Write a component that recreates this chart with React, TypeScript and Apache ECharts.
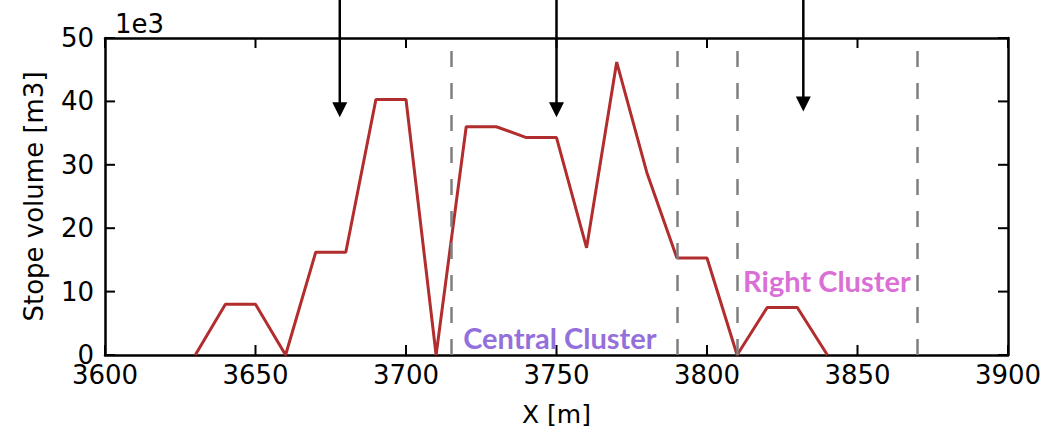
import React, { useEffect, useRef } from "react";
import * as echarts from "echarts";

// ---- data ----
const xPositions = [3630, 3640, 3650, 3660, 3670, 3680, 3690, 3700, 3710, 3720, 3730, 3740, 3750, 3760, 3770, 3780, 3790, 3800, 3810, 3820, 3830, 3840];
const stopeVolumes = [0, 8, 8, 0, 16.2, 16.2, 40.3, 40.3, 0, 36, 36, 34.3, 34.3, 16.9, 46.2, 28.8, 15.3, 15.3, 0, 7.5, 7.5, 0];
const dashedBoundaries = [3715, 3790, 3810, 3870];
const arrowX = [3678, 3750, 3832];
const arrowTipY = [37.5, 37.5, 38.4];
const clusterNames = ["Central Cluster", "Right Cluster"];
const clusterX = [3719, 3812];
const clusterY = [2.8, 11.8];
const clusterColors = ["#9370DB", "#DA70D6"];
const xTickValues = [3600, 3650, 3700, 3750, 3800, 3850, 3900];
const yTickValues = [0, 10, 20, 30, 40, 50];
const offsetText = "1e3";

const FONT = "DejaVu Sans";
const X_MIN = xTickValues[0];
const X_MAX = xTickValues[xTickValues.length - 1];
const Y_MIN = yTickValues[0];
const Y_MAX = yTickValues[yTickValues.length - 1];

const mkLine = () => ({ show: true, onZero: false, lineStyle: { color: "#000", width: 2.5 } });

export default function App() {
  const ref = useRef<HTMLDivElement>(null);
  useEffect(() => {
    document.body.style.margin = "0";
    if (!ref.current) return;
    const chart = echarts.init(ref.current, undefined, { renderer: "svg" });
    const label = { color: "#000", fontFamily: FONT, fontSize: 26 };
    const xAxisBase = { type: "value", min: X_MIN, max: X_MAX, interval: 50 };
    const yAxisBase = { type: "value", min: Y_MIN, max: Y_MAX, interval: 10 };
    const tickData = [
      ...xTickValues.map((v) => [v, 0]),
      ...yTickValues.map((v) => [v, 1]),
    ];
    chart.setOption({
      animation: false,
      backgroundColor: "#fff",
      grid: { left: 105, right: 54, top: 38, bottom: 78, containLabel: false, outerBoundsMode: "none" },
      xAxis: [
        {
          ...xAxisBase, position: "bottom",
          axisLine: mkLine(), axisTick: { show: false }, splitLine: { show: false },
          axisLabel: { ...label, margin: 7, formatter: (v: number) => String(v) },
          name: "X [m]", nameLocation: "middle", nameGap: 47,
          nameTextStyle: { color: "#000", fontFamily: FONT, fontSize: 25 },
        },
        {
          ...xAxisBase, position: "top",
          axisLine: mkLine(), axisTick: { show: false }, splitLine: { show: false },
          axisLabel: { show: false },
        },
      ],
      yAxis: [
        {
          ...yAxisBase, position: "left",
          axisLine: mkLine(), axisTick: { show: false }, splitLine: { show: false },
          axisLabel: { ...label, margin: 11, formatter: (v: number) => String(v) },
          name: "Stope volume [m3]", nameLocation: "middle", nameGap: 58,
          nameTextStyle: { color: "#000", fontFamily: FONT, fontSize: 26 },
        },
        {
          ...yAxisBase, position: "right",
          axisLine: mkLine(), axisTick: { show: false }, splitLine: { show: false },
          axisLabel: { show: false },
        },
      ],
      graphic: [
        { type: "text", left: 115, top: 11, style: { text: offsetText, font: `26px "${FONT}"`, fill: "#000" } },
      ],
      series: [
        {
          type: "line",
          data: xPositions.map((x, i) => [x, stopeVolumes[i]]),
          showSymbol: false,
          symbol: "none",
          lineStyle: { color: "#b22d2d", width: 3 },
          itemStyle: { color: "#b22d2d" },
          z: 3,
          markLine: {
            silent: true,
            symbol: ["none", "none"],
            label: { show: false },
            lineStyle: { color: "#808080", width: 2.5, type: [16, 16] },
            data: dashedBoundaries.map((x) => ({ xAxis: x })),
          },
        },
        {
          // inward ticks on all four sides
          type: "custom",
          clip: false,
          silent: true,
          data: tickData,
          renderItem: (params: any, api: any) => {
            const v = api.value(0);
            const isY = api.value(1) === 1;
            const L = 10;
            const st = { stroke: "#000", lineWidth: 2 };
            if (!isY) {
              const b = api.coord([v, Y_MIN]);
              const t = api.coord([v, Y_MAX]);
              return {
                type: "group",
                children: [
                  { type: "line", shape: { x1: b[0], y1: b[1], x2: b[0], y2: b[1] - L }, style: st },
                  { type: "line", shape: { x1: t[0], y1: t[1], x2: t[0], y2: t[1] + L }, style: st },
                ],
              };
            }
            const l = api.coord([X_MIN, v]);
            const r = api.coord([X_MAX, v]);
            return {
              type: "group",
              children: [
                { type: "line", shape: { x1: l[0], y1: l[1], x2: l[0] + L, y2: l[1] }, style: st },
                { type: "line", shape: { x1: r[0], y1: r[1], x2: r[0] - L, y2: r[1] }, style: st },
              ],
            };
          },
          z: 4,
        },
        {
          type: "custom",
          clip: false,
          data: arrowX.map((x, i) => [x, arrowTipY[i]]),
          renderItem: (params: any, api: any) => {
            const p = api.coord([api.value(0), api.value(1)]);
            return {
              type: "group",
              children: [
                { type: "line", shape: { x1: p[0], y1: 0, x2: p[0], y2: p[1] - 10 }, style: { stroke: "#000", lineWidth: 2.5 } },
                { type: "polygon", shape: { points: [[p[0] - 7.5, p[1] - 15], [p[0] + 7.5, p[1] - 15], [p[0], p[1]]] }, style: { fill: "#000" } },
              ],
            };
          },
          z: 5,
        },
        {
          type: "custom",
          clip: false,
          data: clusterX.map((x, i) => [x, clusterY[i], i]),
          renderItem: (params: any, api: any) => {
            const p = api.coord([api.value(0), api.value(1)]);
            const i = api.value(2);
            return {
              type: "text",
              x: p[0], y: p[1],
              style: { text: clusterNames[i], fill: clusterColors[i], font: 'bold 29px "Lato"', align: "left", verticalAlign: "middle" },
            };
          },
          z: 6,
        },
      ],
    });
    return () => chart.dispose();
  }, []);
  return <div ref={ref} style={{ width: 1062, height: 433 }} />;
}
